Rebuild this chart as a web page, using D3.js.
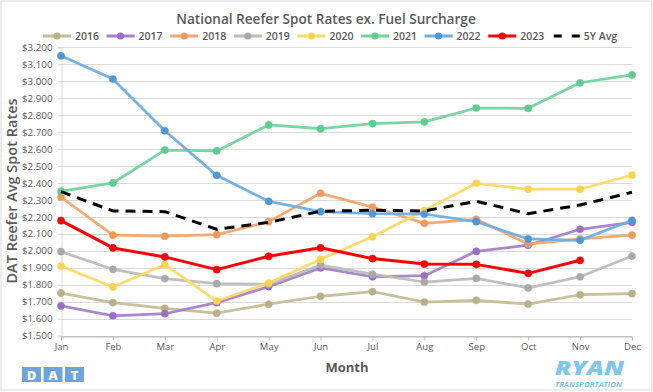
<!DOCTYPE html>
<html><head><meta charset="utf-8">
<script src="https://cdn.jsdelivr.net/npm/d3@7"></script>
<style>body{margin:0;background:#fff}svg{display:block}text{font-family:"Open Sans",sans-serif}</style>
</head><body><svg id="c" width="653" height="392"></svg>
<script>
const months = ["Jan","Feb","Mar","Apr","May","Jun","Jul","Aug","Sep","Oct","Nov","Dec"];
const yTicks = [1.5,1.6,1.7,1.8,1.9,2.0,2.1,2.2,2.3,2.4,2.5,2.6,2.7,2.8,2.9,3.0,3.1,3.2];
const seriesNames = ["2016","2017","2018","2019","2020","2021","2022","2023","5Y Avg"];
const v2016 = [1.751,1.694,1.661,1.632,1.685,1.732,1.759,1.698,1.708,1.686,1.741,1.747];
const v2017 = [1.675,1.617,1.629,1.694,1.789,1.899,1.847,1.853,1.997,2.033,2.127,2.168];
const v2018 = [2.316,2.093,2.086,2.095,2.172,2.339,2.258,2.162,2.186,2.040,2.070,2.093];
const v2019 = [1.995,1.891,1.836,1.806,1.803,1.915,1.862,1.816,1.838,1.781,1.847,1.969];
const v2020 = [1.910,1.787,1.918,1.704,1.810,1.950,2.083,2.238,2.398,2.363,2.363,2.447];
const v2021 = [2.351,2.400,2.594,2.589,2.742,2.720,2.750,2.760,2.842,2.840,2.991,3.037];
const v2022 = [3.150,3.013,2.708,2.445,2.292,2.231,2.219,2.217,2.172,2.070,2.062,2.180];
const v2023 = [2.178,2.017,1.964,1.889,1.968,2.018,1.954,1.922,1.920,1.867,1.944];
const v5yAvg = [2.349,2.235,2.231,2.127,2.168,2.233,2.239,2.235,2.292,2.219,2.270,2.345];

const allValues = [v2016,v2017,v2018,v2019,v2020,v2021,v2022,v2023,v5yAvg];
const colors = ["#c4bd97","#a57fcb","#f2a66f","#bcbcbc","#ffd966","#72d39c","#6eaee0","#ff0000","#000000"];
const markerColors = ["#b8b089","#9a6fc4","#ee9a5e","#a9a9a9","#ffd24d","#5fcb8e","#4f97d6","#ff0000","#000000"];

const svg = d3.select("#c");
const textCol = "#595959";
const L = 61, R = 632, T = 47.3, B = 335.6;
const x = d3.scalePoint().domain(months).range([L, R]);
const y = d3.scaleLinear().domain([1.5, 3.2]).range([B, T]);

// chart border
svg.append("rect").attr("x",1).attr("y",1).attr("width",651).attr("height",389)
  .attr("fill","#fff").attr("stroke","#d9d9d9").attr("stroke-width",1);

// title
svg.append("text").attr("x",326).attr("y",24).attr("text-anchor","middle")
  .attr("font-size",13.6).attr("font-weight",600).attr("fill",textCol)
  .text("National Reefer Spot Rates ex. Fuel Surcharge");

// gridlines
svg.append("g").selectAll("line").data(yTicks).join("line")
  .attr("x1",L).attr("x2",R).attr("y1",d=>Math.round(y(d))+0.5).attr("y2",d=>Math.round(y(d))+0.5)
  .attr("stroke",d=>d===1.5?"#bfbfbf":"#d9d9d9").attr("stroke-width",1);

// y axis
const yAxis = d3.axisLeft(y).tickValues(yTicks).tickFormat(d=>"$"+d3.format(".3f")(d)).tickSize(4).tickPadding(5);
const gy = svg.append("g").attr("transform",`translate(${L+0.5},0)`).call(yAxis);
gy.select(".domain").attr("stroke","#d9d9d9");
gy.selectAll(".tick line").attr("stroke","#d9d9d9");
gy.selectAll("text").attr("font-size",9.8).attr("fill",textCol).attr("font-family","'Open Sans',sans-serif");

// x axis
const xAxis = d3.axisBottom(x).tickSize(4).tickPadding(3);
const gx = svg.append("g").attr("transform",`translate(0,${Math.round(B)+0.5})`).call(xAxis);
gx.select(".domain").attr("stroke","#bfbfbf");
gx.selectAll(".tick line").attr("stroke","#bfbfbf");
gx.selectAll("text").attr("font-size",9.5).attr("fill",textCol).attr("font-family","'Open Sans',sans-serif");

// axis titles
svg.append("text").attr("transform","translate(17,191) rotate(-90)").attr("text-anchor","middle")
  .attr("font-size",14.5).attr("font-weight",600).attr("fill",textCol).text("DAT Reefer Avg Spot Rates");
svg.append("text").attr("x",347).attr("y",371.5).attr("text-anchor","middle")
  .attr("font-size",13).attr("font-weight",700).attr("fill",textCol).text("Month");

// series
const line = d3.line().x((d,i)=>x(months[i])).y(d=>y(d));
allValues.forEach((vals,k)=>{
  const g = svg.append("g");
  const isAvg = k===8;
  g.append("path").attr("d",line(vals)).attr("fill","none")
    .attr("stroke",colors[k]).attr("stroke-width",isAvg?3:(k===7?3:2.75))
    .attr("stroke-linejoin","round").attr("stroke-linecap",isAvg?"butt":"round")
    .attr("stroke-dasharray",isAvg?"10,7":null)
    .attr("opacity",k===7||isAvg?1:0.95);
  if(!isAvg){
    g.selectAll("circle").data(vals).join("circle")
      .attr("cx",(d,i)=>x(months[i])).attr("cy",d=>y(d)).attr("r",3.6)
      .attr("fill",markerColors[k]).attr("stroke",markerColors[k]).attr("stroke-width",0.5);
  }
});

// legend
const lg = svg.append("g");
seriesNames.forEach((n,k)=>{
  const x0 = 43 + k*63.6, yy = 36;
  const isAvg = k===8;
  if(isAvg){
    lg.append("line").attr("x1",x0+2).attr("x2",x0+10).attr("y1",yy).attr("y2",yy).attr("stroke","#000").attr("stroke-width",3);
    lg.append("line").attr("x1",x0+20).attr("x2",x0+28).attr("y1",yy).attr("y2",yy).attr("stroke","#000").attr("stroke-width",3);
  } else {
    lg.append("line").attr("x1",x0).attr("x2",x0+28).attr("y1",yy).attr("y2",yy).attr("stroke",colors[k]).attr("stroke-width",3);
    lg.append("circle").attr("cx",x0+14).attr("cy",yy).attr("r",3.6).attr("fill",markerColors[k]);
  }
  lg.append("text").attr("x",x0+32).attr("y",yy+4).attr("font-size",10.5).attr("font-weight",600).attr("fill",textCol).text(n);
});

// DAT logo
const dat = svg.append("g");
["D","A","T"].forEach((c,i)=>{
  const bx = 22 + i*21.5;
  dat.append("rect").attr("x",bx).attr("y",367).attr("width",19).attr("height",15).attr("fill","#6fa3dc");
  dat.append("text").attr("x",bx+9.5).attr("y",379.5).attr("text-anchor","middle").attr("font-size",13)
    .attr("font-weight",800).attr("fill","#fff").attr("font-family","'DejaVu Sans',sans-serif").text(c);
});

// RYAN logo
svg.append("text").attr("x",555).attr("y",375).attr("font-size",19)
  .attr("textLength",69).attr("lengthAdjust","spacingAndGlyphs")
  .attr("font-weight",900).attr("font-style","italic").attr("fill","#7ec6ea")
  .attr("font-family","'Liberation Sans',Arial,sans-serif").text("RYAN");
svg.append("text").attr("x",555).attr("y",386.5).attr("font-size",7)
  .attr("textLength",67).attr("lengthAdjust","spacingAndGlyphs")
  .attr("font-weight",700).attr("font-style","italic").attr("fill","#7ec6ea")
  .attr("font-family","'Liberation Sans',Arial,sans-serif").text("TRANSPORTATION");
</script></body></html>
